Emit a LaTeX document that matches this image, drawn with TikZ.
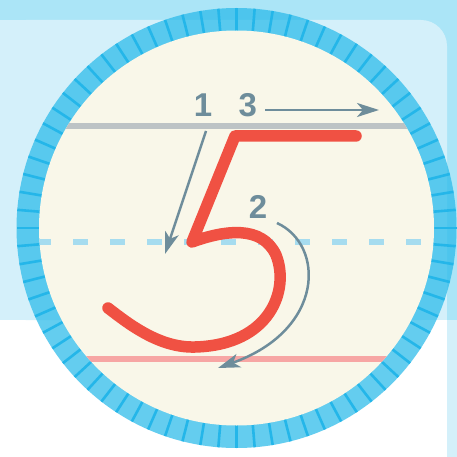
\documentclass[tikz,border=0pt]{standalone}
\usepackage{fontspec}
\newfontfamily\numfont{Liberation Sans}
\usetikzlibrary{arrows.meta,positioning}

\definecolor{bandblue}{RGB}{171,229,247}
\definecolor{panelblue}{RGB}{212,240,250}
\definecolor{ringblue}{RGB}{41,186,234}
\definecolor{tickblue}{RGB}{36,182,233}
\definecolor{paper}{RGB}{249,247,233}
\definecolor{topgray}{RGB}{189,195,197}
\definecolor{midblue}{RGB}{166,220,239}
\definecolor{basepink}{RGB}{247,166,164}
\definecolor{strokered}{RGB}{240,81,67}
\definecolor{guide}{RGB}{110,141,155}

\tikzset{
	num/.style={font=\numfont\bfseries\fontsize{33}{33}\selectfont, text=guide, inner sep=0pt},
	guidearrow/.style={draw=guide, line width=2.5pt, -{Stealth[length=22pt,width=14pt,inset=6pt]}},
	ruleline/.style={line width=6.5pt},
}

\begin{document}
\begin{tikzpicture}[x=1pt, y=-1pt]
	\useasboundingbox (0,0) rectangle (457,457);
	
	% 1. 背景：上方蓝色带、浅蓝面板（右上角圆角）、下方白色
	\fill[bandblue] (0,0) rectangle (457,320);
	\fill[white] (0,320) rectangle (447,457);
	\fill[panelblue] (447,320) rectangle (457,457);
	\fill[panelblue, rounded corners=26pt] (0,20) rectangle (447,320);
	\fill[panelblue] (0,20) rectangle (40,320);
	\fill[panelblue] (0,290) rectangle (447,320);
	
	% 2. 圆盘：半透明外环 + 刻度 + 米色内圆
	\coordinate (c) at (236.5,228);
	\fill[ringblue, opacity=0.72] (c) circle[radius=220pt];
	\foreach \k [evaluate=\k as \ang using 90+\k*(360/76)] in {0,...,75}
		\draw[tickblue, line width=2.6pt] ([shift={(\ang:196pt)}]c) -- ([shift={(\ang:220pt)}]c);
	\fill[paper] (c) circle[radius=197.5pt];
	
	% 3. 书写格线（裁剪在内圆里）
	\begin{scope}
		\clip (c) circle[radius=197.5pt];
		\draw[ruleline, topgray] (30,126) -- (445,126);
		\draw[ruleline, midblue, dash pattern=on 15pt off 22pt] (36,242) -- (445,242);
		\draw[ruleline, basepink, line width=6pt] (30,359) -- (445,359);
	\end{scope}
	
	% 4. 红色的 5
	\draw[strokered, line width=11.5pt, line cap=round, line join=round]
		(356,136) -- (235,136) -- (192,242)
		.. controls (225,230) and (262,225) .. (276,255)
		.. controls (290,290) and (270,345) .. (195,347)
		.. controls (160,348) and (130,325) .. (108,308);
	
	% 5. 笔顺编号与箭头
	\node[num] (n1) at (203,105) {1};
	\node[num, right=26pt of n1] (n3) {3};
	\node[num] (n2) at (258,207) {2};
	
	\coordinate (a1s) at (206,131);
	\coordinate (a1e) at (165,254);
	\coordinate (a3s) at (265,110);
	\coordinate (a3e) at (379,110);
	\coordinate (a2s) at (277,223);
	\coordinate (a2e) at (218,368);
	
	\draw[guidearrow] (a1s) -- (a1e);
	\draw[guidearrow] (a3s) -- (a3e);
	\draw[guidearrow] (a2s) .. controls (325,245) and (325,330) .. (a2e);
\end{tikzpicture}
\end{document}
